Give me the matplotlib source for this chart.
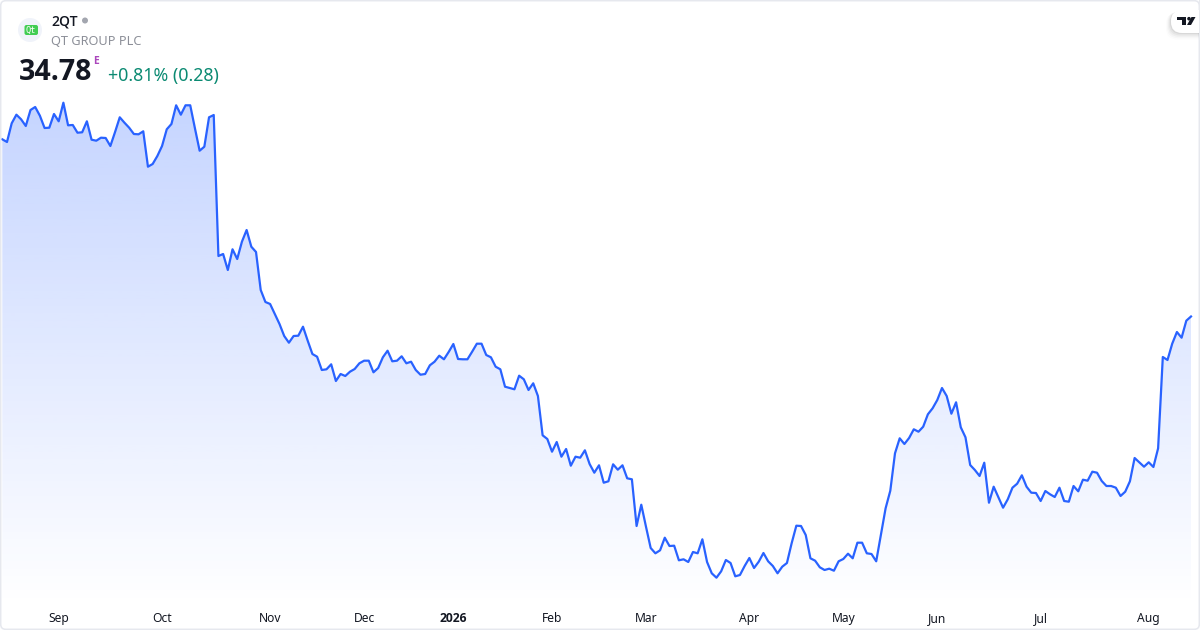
import numpy as np
import matplotlib
matplotlib.use("Agg")
import matplotlib.pyplot as plt
from matplotlib.patches import FancyBboxPatch, Circle, Polygon, Rectangle
from matplotlib.colors import to_rgb

plt.rcParams['font.family'] = ['Noto Sans', 'DejaVu Sans']
BOLD = ['Open Sans', 'DejaVu Sans']

ticker = "2QT"
company = "QT GROUP PLC"
last_price = "34.78"
change_text = "+0.81% (0.28)"

prices_sep_oct = [52.50,52.23,54.10,54.96,54.50,53.83,55.43,55.73,54.86,53.63,53.66,55.03,54.30,56.16,53.90,53.93,
    53.16,53.20,54.30,52.46,52.36,52.66,52.63,51.83,53.23,54.70,54.16,53.66,53.03,53.00,53.30,49.76,50.03,50.83,
    51.83,53.50,54.03,55.90,54.96,55.90,55.90,53.60,51.36,51.76,54.70,54.93]
prices_oct_jan = [40.83,41.03,39.43,41.50,40.53,42.26,43.43,41.76,41.23,37.43,36.23,36.03,35.03,34.03,32.83,32.16,
    32.83,32.86,33.76,32.36,31.03,30.76,29.43,29.50,30.00,28.33,29.03,28.83,29.26,29.53,30.10,30.36,30.36,29.20,
    29.63,30.70,31.36,30.30,30.36,30.80,30.10,30.26,29.43,28.96,29.03,29.90,30.26,30.86,30.50,31.23,32.03,30.53,
    30.50,30.50,31.26,32.06,32.06]
prices_jan_apr = [30.93,30.70,29.76,29.50,27.76,27.63,27.50,28.86,28.50,27.43,28.10,26.83,22.90,22.53,21.26,22.23,
    20.76,21.53,19.86,20.76,20.66,21.40,20.03,19.16,19.90,18.16,18.30,20.00,19.46,19.90,18.60,18.50,13.83,15.96,
    13.76,11.63,11.10,11.40,12.66,11.83,11.86,10.40,10.50,10.23,11.23,11.10,12.50,10.23,9.10,8.66,9.30,10.43,
    10.13,8.80,8.93,9.83,10.63,9.63,10.26,11.13,10.30,9.83,9.10]
prices_apr_jun = [9.76,10.13,12.10,13.86,13.83,12.93,10.60,10.36,9.70,9.43,9.56,9.36,10.30,10.53,11.06,10.60,12.16,
    12.16,11.10,11.03,10.30,12.93,15.60,17.36,21.10,22.60,22.03,22.63,23.50,23.26,23.76,25.00,25.60,26.43,27.63,
    26.83,25.06,26.20,23.70,22.70,19.93,19.43,18.83,20.16,16.16,17.76,16.70,15.66]
prices_jun_aug = [16.50,17.66,18.06,18.90,17.76,17.16,17.13,16.33,17.33,17.00,16.73,17.66,16.33,16.26,17.83,17.30,
    18.46,18.36,19.26,19.16,18.33,17.83,17.83,17.66,16.83,17.26,18.30,20.63,20.20,19.76,20.20,19.73,21.60,30.73,
    30.43,32.06,33.23,32.66,34.36,34.78]
month_labels = ["Sep","Oct","Nov","Dec","2026","Feb","Mar","Apr","May","Jun","Jul","Aug"]
month_index = [12,34,57,77,96,117,137,159,179,199,221,244]

prices = np.array(prices_sep_oct + prices_oct_jan + prices_jan_apr + prices_apr_jun + prices_jun_aug)
idx = np.arange(len(prices))

W, H = 1200, 630
LINE = "#2962ff"
fig = plt.figure(figsize=(W/100, H/100), dpi=100, facecolor="white")

bottom_px = 606
ax = fig.add_axes([0, (H-bottom_px)/H, 1, bottom_px/H])
step = (1191-2.3)/(len(prices)-1)
ax.set_xlim(-2.3/step, (W-2.3)/step)
ax.set_ylim(66.43-bottom_px/10, 66.43)
for s in ax.spines.values():
    s.set_visible(False)
ax.set_yticks([])
ax.set_xticks(month_index)
ax.set_xticklabels(month_labels, fontsize=8.7, color="#131722")
ax.tick_params(axis="x", length=0, pad=4.5)
lab = ax.get_xticklabels()[month_labels.index("2026")]
lab.set_family(BOLD)
lab.set_fontweight("bold")

y0 = ax.get_ylim()[0]
rgb = to_rgb(LINE)
n = 256
grad = np.zeros((n, 1, 4))
grad[..., 0], grad[..., 1], grad[..., 2] = rgb
grad[:, 0, 3] = np.linspace(0.27, 0.0, n)
im = ax.imshow(grad, extent=[idx[0], idx[-1], y0, prices.max()], aspect="auto",
               origin="upper", zorder=1, interpolation="bilinear")
poly = Polygon(np.column_stack([np.r_[idx, idx[-1], idx[0]], np.r_[prices, y0, y0]]),
               closed=True, transform=ax.transData, fc="none", ec="none")
ax.add_patch(poly)
im.set_clip_path(poly)
ax.set_xlim(-2.3/step, (W-2.3)/step)
ax.set_ylim(y0, 66.43)
ax.plot(idx, prices, color=LINE, lw=1.6, zorder=3, solid_joinstyle="round")

ov = fig.add_axes([0, 0, 1, 1], facecolor="none")
ov.set_xlim(0, W)
ov.set_ylim(H, 0)
ov.axis("off")
ov.add_patch(FancyBboxPatch((0.7, 0.7), W-1.4, H-1.4, boxstyle="round,pad=0,rounding_size=5",
                            fc="none", ec="#e6e8ee", lw=1.1))

ov.add_patch(Circle((30, 30), 12, fc="#f0f3fa", ec="none"))
ov.add_patch(FancyBboxPatch((25.5, 26), 11.5, 8, boxstyle="round,pad=1,rounding_size=2", fc="#41cd52", ec="none"))
ov.text(31, 30, "Qt", fontsize=6.2, color="white", ha="center", va="center", family="DejaVu Sans Mono")

ov.text(51, 22, ticker, fontsize=10, color="#131722", ha="left", va="center", family=BOLD, weight="semibold")
ov.add_patch(Circle((85, 20.5), 3, fc="#a3a6af", ec="none"))
ov.text(51, 41.5, company, fontsize=9.2, color="#8c8f98", ha="left", va="center")
ov.text(18.5, 72, last_price, fontsize=20.5, color="#131722", ha="left", va="center", family=BOLD, weight="bold")
ov.text(93, 61.5, "E", fontsize=7.5, color="#ab47bc", ha="left", va="center", family=BOLD, weight="bold")
ov.text(108, 75.5, change_text, fontsize=12.8, color="#0b8a72", ha="left", va="center")

for i, a in enumerate(np.linspace(0.05, 0.01, 5)):
    ov.add_patch(FancyBboxPatch((1170-i, 11+i*0.4), 60, 23+i, boxstyle="round,pad=0,rounding_size=11",
                                fc="black", ec="none", alpha=a))
ov.add_patch(FancyBboxPatch((1171, 10), 60, 23, boxstyle="round,pad=0,rounding_size=11", fc="white", ec="none"))
ov.add_patch(Rectangle((1177, 17), 9, 3.4, fc="#131722", ec="none"))
ov.add_patch(Rectangle((1181.5, 17), 4.5, 8, fc="#131722", ec="none"))
ov.add_patch(Circle((1189, 18.7), 1.8, fc="#131722", ec="none"))
ov.add_patch(Polygon([(1191.5, 17), (1195.5, 17), (1191, 25), (1187, 25)], closed=True, fc="#131722", ec="none"))
ov.add_patch(Rectangle((1199, 0), 1, 40, fc="#e8eaef", ec="none"))

fig.savefig("out.png", dpi=100, facecolor="white")
